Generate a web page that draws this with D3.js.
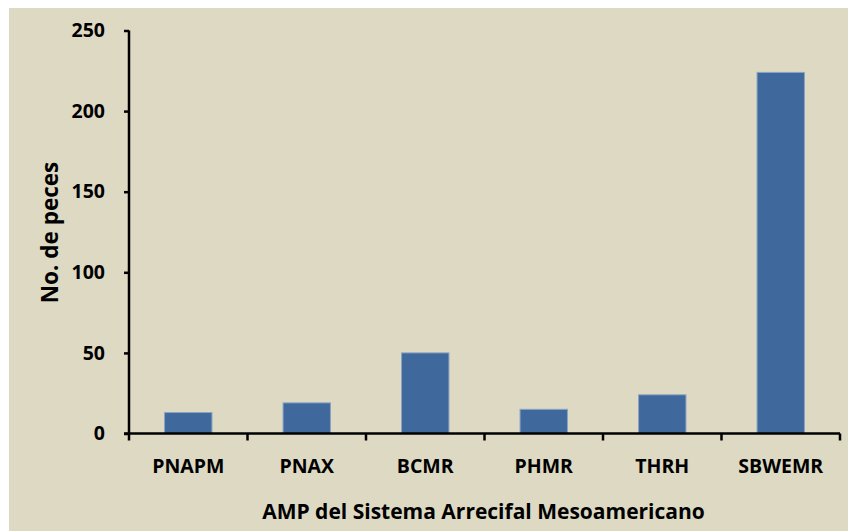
<!DOCTYPE html>
<html>
<head>
<meta charset="utf-8">
<script src="https://cdn.jsdelivr.net/npm/d3@7"></script>
<style>
  html, body { margin: 0; padding: 0; background: #ffffff; }
  svg { display: block; }
  text { font-family: "Open Sans", Lato, sans-serif; font-weight: bold; fill: #000; }
</style>
</head>
<body>
<svg id="chart" width="848" height="531"></svg>
<script>
const categories = ["PNAPM", "PNAX", "BCMR", "PHMR", "THRH", "SBWEMR"];
const values = [13, 19, 50, 15, 24, 224];
const yTicks = [0, 50, 100, 150, 200, 250];
const yTitle = "No. de peces";
const xTitle = "AMP del Sistema Arrecifal Mesoamericano";

(function () {
const FS = 19.5;
const svg = d3.select("#chart");
svg.append("rect").attr("x", 9).attr("y", 8).attr("width", 839).attr("height", 523).attr("fill", "#DDD9C3");

const pLeft = 129, pRight = 840, pTop = 30.5, pBottom = 433.5;
const x = d3.scaleBand().domain(categories).range([pLeft, pRight]).paddingInner(0.6).paddingOuter(0.3);
const y = d3.scaleLinear().domain([0, 250]).range([pBottom, pTop]);

// bars
svg.append("g").selectAll("rect").data(categories).join("rect")
  .attr("x", d => x(d))
  .attr("width", x.bandwidth())
  .attr("y", (d, i) => y(values[i]))
  .attr("height", (d, i) => y(0) - y(values[i]))
  .attr("fill", "#3F699C")
  .attr("stroke", "#8AA3C4")
  .attr("stroke-width", 1);

// y axis
const yAxis = svg.append("g").attr("transform", `translate(${pLeft},0)`)
  .call(d3.axisLeft(y).tickValues(yTicks).tickSize(5).tickPadding(19).tickFormat(d3.format("d")));
yAxis.select(".domain").attr("stroke", "#000").attr("stroke-width", 2.5).attr("d", `M0,${pTop}V${pBottom}`);
yAxis.selectAll(".tick line").attr("stroke", "#000").attr("stroke-width", 2.5);
yAxis.selectAll(".tick text").attr("font-size", FS).attr("font-family", "Open Sans").attr("font-weight", "bold").attr("fill", "#000");

// x axis with category-boundary ticks
const xg = svg.append("g").attr("transform", `translate(0,${pBottom})`);
const step = x.step();
const boundaries = d3.range(categories.length + 1).map(i => pLeft + i * step);
xg.append("line").attr("x1", pLeft - 5).attr("x2", pRight).attr("y1", 0).attr("y2", 0)
  .attr("stroke", "#000").attr("stroke-width", 2.5);
xg.selectAll("line.tk").data(boundaries).join("line").attr("class", "tk")
  .attr("x1", d => d).attr("x2", d => d).attr("y1", 0).attr("y2", 7)
  .attr("stroke", "#000").attr("stroke-width", 2.5);
xg.selectAll("text.cat").data(categories).join("text").attr("class", "cat")
  .attr("x", d => x(d) + x.bandwidth() / 2)
  .attr("y", 39)
  .attr("text-anchor", "middle")
  .attr("font-size", FS)
  .text(d => d);

// titles
svg.append("text").attr("x", 483.5).attr("y", 519)
  .attr("text-anchor", "middle").attr("font-size", 21).text(xTitle);
svg.append("text").attr("transform", `translate(58,232.5) rotate(-90)`)
  .attr("text-anchor", "middle").attr("font-size", 22.5).text(yTitle);
})();
</script>
</body>
</html>
